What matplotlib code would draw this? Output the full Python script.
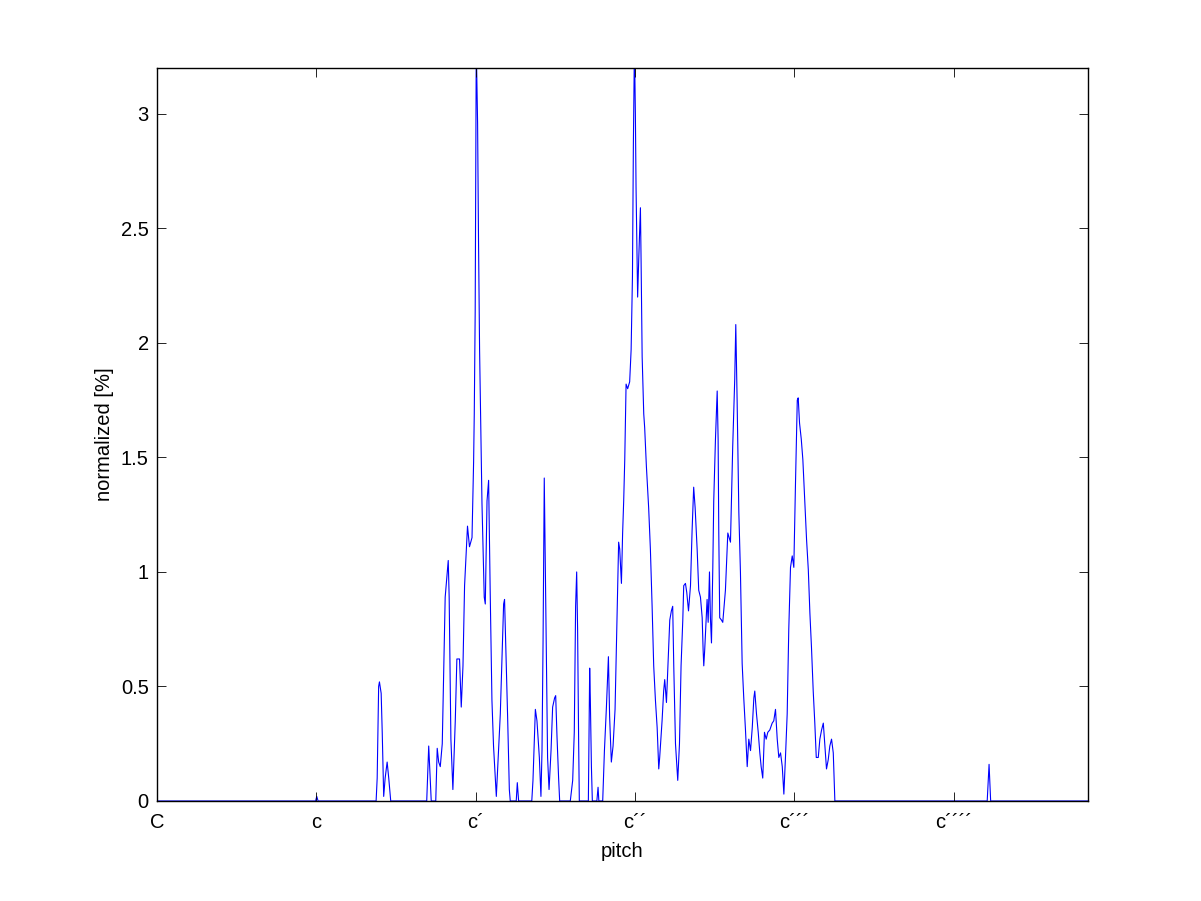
import numpy as np
import matplotlib
matplotlib.use("Agg")
import matplotlib.pyplot as plt

# pitch in semitones above C, value in percent (breakpoints)
pitch = [
    0.00, 11.94, 12.03, 12.13,
    16.50, 16.58, 16.69, 16.75, 16.88, 16.96, 17.07, 17.18, 17.33, 17.45, 17.60,
    20.31, 20.46, 20.57, 20.65, 20.99, 21.10, 21.21, 21.33, 21.48, 21.70, 21.93,
    22.00, 22.13, 22.28, 22.46, 22.58, 22.78, 22.91, 23.04, 23.16, 23.38, 23.53,
    23.72, 23.84, 23.89, 23.96, 24.04, 24.14, 24.21, 24.29, 24.39, 24.47, 24.64,
    24.72, 24.85, 24.97, 25.09, 25.22, 25.34, 25.55, 25.85, 26.10, 26.17, 26.30,
    26.40, 26.53, 26.60, 27.05, 27.13, 27.23,
    28.22, 28.31, 28.49, 28.61, 28.79, 28.91, 28.99, 29.07, 29.16, 29.29, 29.41,
    29.52, 29.67, 29.79, 29.94, 30.02, 30.12, 30.24, 30.32,
    31.12, 31.30, 31.42, 31.52, 31.60, 31.67, 31.75, 31.80,
    32.48, 32.58, 32.63, 32.71, 32.78, 33.12, 33.21, 33.27,
    33.56, 33.69, 33.84, 33.99, 34.08, 34.21, 34.34, 34.49, 34.61, 34.76, 34.84,
    34.97, 35.06, 35.14, 35.22, 35.32, 35.44, 35.59, 35.70, 35.80, 35.87, 35.95,
    36.02, 36.07, 36.15, 36.19, 36.27, 36.40, 36.45, 36.53, 36.65, 36.72, 36.85,
    37.02, 37.15, 37.28, 37.40, 37.53, 37.66, 37.78, 37.85, 38.03, 38.15, 38.23,
    38.36, 38.46, 38.61, 38.73, 38.83, 38.91, 39.04, 39.16, 39.21, 39.34, 39.46,
    39.59, 39.66, 39.79, 39.89, 40.02, 40.17, 40.29, 40.41, 40.52, 40.67, 40.79,
    40.92, 41.05, 41.12, 41.17, 41.24, 41.35, 41.42, 41.50, 41.60, 41.67, 41.75,
    41.85, 41.92, 42.05, 42.18, 42.25, 42.30, 42.37, 42.50, 42.60, 42.80, 42.98,
    43.18, 43.35, 43.50, 43.58, 43.68, 43.81, 43.93, 44.06, 44.18, 44.31, 44.44,
    44.56, 44.69, 44.82, 44.94, 45.01, 45.14, 45.27, 45.39, 45.49, 45.61, 45.74,
    45.87, 45.99, 46.14, 46.32, 46.44, 46.57, 46.70, 46.82, 46.95, 47.08, 47.20,
    47.32, 47.45, 47.57, 47.70, 47.83, 47.95, 48.08, 48.21, 48.28, 48.38, 48.51,
    48.63, 48.76, 48.91, 49.04, 49.16, 49.28, 49.41, 49.53, 49.64, 49.79, 49.91,
    50.04, 50.17, 50.29, 50.41, 50.54, 50.66, 50.79, 50.92, 51.04,
    62.51, 62.57, 62.65, 62.72, 62.77, 70.08,
]
value = [
    0.00, 0.00, 0.02, 0.00,
    0.00, 0.10, 0.50, 0.52, 0.47, 0.30, 0.02, 0.10, 0.17, 0.10, 0.00,
    0.00, 0.24, 0.10, 0.00, 0.00, 0.23, 0.17, 0.15, 0.25, 0.89, 1.05,
    0.89, 0.27, 0.05, 0.35, 0.62, 0.62, 0.41, 0.59, 0.94, 1.20, 1.11,
    1.15, 1.48, 1.69, 2.14, 3.30, 2.96, 2.45, 1.97, 1.58, 1.30, 0.89,
    0.86, 1.31, 1.40, 0.91, 0.44, 0.24, 0.02, 0.38, 0.86, 0.88, 0.59,
    0.37, 0.05, 0.00, 0.00, 0.08, 0.00,
    0.00, 0.09, 0.40, 0.35, 0.19, 0.02, 0.22, 0.70, 1.41, 0.78, 0.19,
    0.05, 0.22, 0.41, 0.45, 0.46, 0.28, 0.10, 0.00,
    0.00, 0.09, 0.30, 0.85, 1.00, 0.75, 0.25, 0.00,
    0.00, 0.58, 0.44, 0.15, 0.00, 0.00, 0.06, 0.00,
    0.00, 0.22, 0.41, 0.63, 0.37, 0.17, 0.24, 0.40, 0.73, 1.13, 1.10,
    0.95, 1.17, 1.31, 1.49, 1.82, 1.80, 1.83, 1.97, 2.29, 2.87, 3.30,
    3.00, 2.68, 2.36, 2.20, 2.36, 2.59, 2.36, 1.94, 1.69, 1.63, 1.46,
    1.28, 1.10, 0.85, 0.59, 0.44, 0.32, 0.14, 0.19, 0.35, 0.48, 0.53,
    0.43, 0.57, 0.79, 0.83, 0.85, 0.59, 0.25, 0.14, 0.09, 0.25, 0.59,
    0.79, 0.94, 0.95, 0.91, 0.83, 0.94, 1.18, 1.37, 1.28, 1.10, 0.92,
    0.89, 0.80, 0.66, 0.59, 0.66, 0.79, 0.88, 0.78, 1.00, 0.80, 0.69,
    1.02, 1.31, 1.58, 1.79, 1.58, 1.17, 0.80, 0.79, 0.78, 0.92, 1.17,
    1.13, 1.55, 1.84, 2.08, 1.75, 1.26, 1.00, 0.60, 0.45, 0.31, 0.15,
    0.27, 0.22, 0.32, 0.45, 0.48, 0.38, 0.30, 0.21, 0.15, 0.10, 0.30,
    0.27, 0.30, 0.31, 0.34, 0.35, 0.40, 0.27, 0.19, 0.21, 0.15, 0.03,
    0.19, 0.38, 0.75, 1.02, 1.07, 1.02, 1.40, 1.75, 1.76, 1.65, 1.58,
    1.49, 1.33, 1.14, 1.01, 0.82, 0.67, 0.48, 0.34, 0.19, 0.19, 0.27,
    0.31, 0.34, 0.24, 0.14, 0.18, 0.24, 0.27, 0.21, 0.00,
    0.00, 0.07, 0.16, 0.07, 0.00, 0.00,
]

octave_ticks = [0, 12, 24, 36, 48, 60]
octave_labels = ["C", "c", "c\u00b4", "c\u00b4\u00b4", "c\u00b4\u00b4\u00b4", "c\u00b4\u00b4\u00b4\u00b4"]
y_ticks = [0, 0.5, 1, 1.5, 2, 2.5, 3]

plt.rcParams["font.family"] = ["Liberation Sans", "DejaVu Sans"]
plt.rcParams["font.size"] = 14.5

fig = plt.figure(figsize=(12.01, 9.01), dpi=100)
ax = fig.add_axes([0.1307, 0.111, 0.775, 0.8135])

# line under the axes box, like matlab draws it
ax.plot(pitch, value, color="#0000ff", linewidth=0.8, zorder=1)

ax.set_xlim(0, 70.08)
ax.set_ylim(0, 3.2)
ax.set_xticks(octave_ticks)
ax.set_xticklabels(octave_labels)
ax.set_yticks(y_ticks)
ax.set_yticklabels(["0", "0.5", "1", "1.5", "2", "2.5", "3"])

ax.tick_params(direction="in", length=6.7, width=0.6, top=True, right=True)
ax.tick_params(axis="x", pad=9)
ax.tick_params(axis="y", pad=6)
for s in ax.spines.values():
    s.set_linewidth(1.0)
    s.set_zorder(3)

ax.set_xlabel("pitch", labelpad=7)
ax.set_ylabel("normalized [%]", labelpad=5)

fig.savefig("out.png", dpi=100)
